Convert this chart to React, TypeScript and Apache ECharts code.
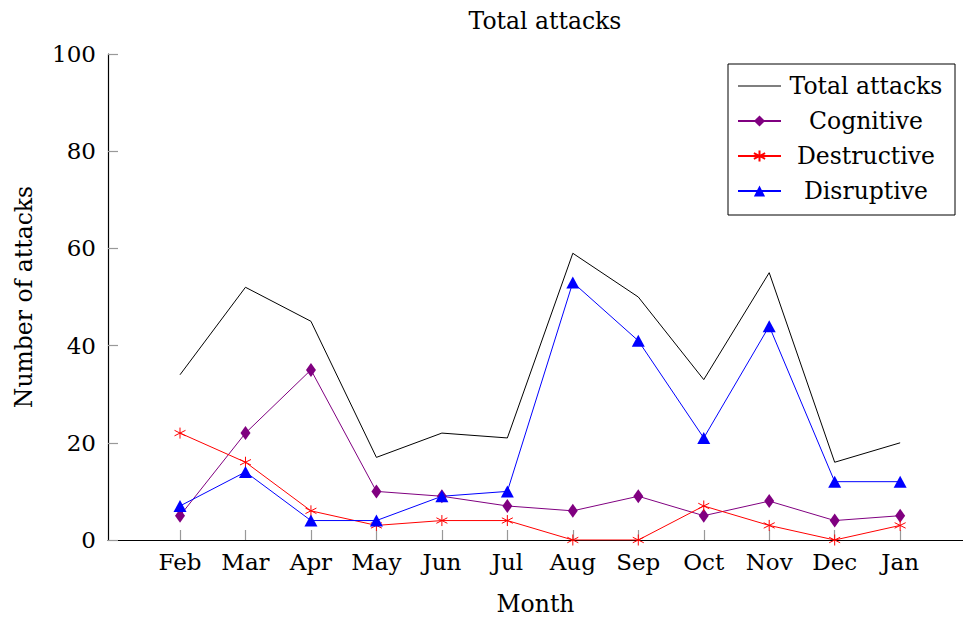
import React, { useEffect, useRef } from "react";
import * as echarts from "echarts";

const months = ["Feb", "Mar", "Apr", "May", "Jun", "Jul", "Aug", "Sep", "Oct", "Nov", "Dec", "Jan"];
const totalAttacks = [34, 52, 45, 17, 22, 21, 59, 50, 33, 55, 16, 20];
const cognitive = [5, 22, 35, 10, 9, 7, 6, 9, 5, 8, 4, 5];
const destructive = [22, 16, 6, 3, 4, 4, 0, 0, 7, 3, 0, 3];
const disruptive = [7, 14, 4, 4, 9, 10, 53, 41, 21, 44, 12, 12];
const yTicks = [0, 20, 40, 60, 80, 100];

const FONT = "DejaVu Serif";

const pair = (vals: number[]) => vals.map((v, i) => [i, v]);

const asterisk =
  "path://M5,0 L5,10 M0.67,2.5 L9.33,7.5 M0.67,7.5 L9.33,2.5";

export default function App() {
  const ref = useRef<HTMLDivElement>(null);
  useEffect(() => {
    if (!ref.current) return;
    const chart = echarts.init(ref.current, null, { renderer: "svg" });
    const monthIdx = months.map((_, i) => i);
    chart.setOption({
      animation: false,
      backgroundColor: "#ffffff",
      title: {
        text: "Total attacks",
        left: 540,
        top: 4,
        textAlign: "center",
        textStyle: { fontFamily: FONT, fontSize: 23.5, fontWeight: "normal", color: "#000" },
      },
      legend: {
        left: 728,
        top: 64,
        orient: "vertical",
        backgroundColor: "#fff",
        borderColor: "#000",
        borderWidth: 1,
        borderRadius: 0,
        padding: [10, 9, 12, 9],
        itemWidth: 43,
        itemHeight: 14,
        itemGap: 11,
        itemTextGap: 5,
        formatter: (name: string) => "{a|" + name + "}",
        textStyle: {
          fontFamily: FONT,
          fontSize: 23.5,
          color: "#000",
          rich: { a: { width: 160, align: "center", lineHeight: 24, fontFamily: FONT, fontSize: 23.5 } },
        },
        data: [
          { name: "Total attacks", icon: "path://M0,0 L43,0 L43,1 L0,1 Z" },
          "Cognitive",
          "Destructive",
          "Disruptive",
        ],
      },
      grid: { left: 108, right: 0, top: 54, bottom: 81, containLabel: false, outerBoundsMode: "none" },
      xAxis: {
        type: "value",
        min: -1.1,
        max: 11.96,
        name: "Month",
        nameLocation: "middle",
        nameGap: 52,
        nameTextStyle: { fontFamily: FONT, fontSize: 23.5, color: "#000" },
        splitLine: { show: false },
        axisLine: { show: true, onZero: false, lineStyle: { color: "#000", width: 1.2 } },
        axisTick: {
          show: true,
          inside: true,
          length: 10,
          customValues: monthIdx,
          lineStyle: { color: "#999", width: 1.2 },
        },
        axisLabel: {
          customValues: monthIdx,
          margin: 10,
          fontFamily: FONT,
          fontSize: 23,
          color: "#000",
          formatter: (v: number) => months[Math.round(v)] ?? "",
        },
      },
      yAxis: {
        type: "value",
        min: 0,
        max: 100,
        interval: 20,
        name: "Number of attacks",
        nameLocation: "middle",
        nameGap: 72,
        nameTextStyle: { fontFamily: FONT, fontSize: 23.5, color: "#000" },
        splitLine: { show: false },
        axisLine: { show: true, onZero: false, lineStyle: { color: "#000", width: 1.2 } },
        axisTick: { show: true, inside: true, length: 10, lineStyle: { color: "#999", width: 1.2 } },
        axisLabel: {
          margin: 12,
          fontFamily: FONT,
          fontSize: 23,
          color: "#000",
          customValues: yTicks,
        },
      },
      series: [
        {
          name: "Total attacks",
          type: "line",
          data: pair(totalAttacks),
          symbol: "none",
          lineStyle: { color: "#000", width: 1 },
          itemStyle: { color: "#000" },
        },
        {
          name: "Cognitive",
          type: "line",
          data: pair(cognitive),
          symbol: "diamond",
          symbolSize: [10, 14],
          lineStyle: { color: "#800080", width: 1 },
          itemStyle: { color: "#800080" },
        },
        {
          name: "Destructive",
          type: "line",
          data: pair(destructive),
          symbol: asterisk,
          symbolSize: 11,
          lineStyle: { color: "#ff0000", width: 1 },
          itemStyle: { color: "none", borderColor: "#ff0000", borderWidth: 1 },
        },
        {
          name: "Disruptive",
          type: "line",
          data: pair(disruptive),
          symbol: "triangle",
          symbolSize: [13, 12],
          lineStyle: { color: "#0000ff", width: 1 },
          itemStyle: { color: "#0000ff" },
        },
      ],
    });
    return () => chart.dispose();
  }, []);
  return (
    <div
      ref={ref}
      style={{ position: "fixed", left: 0, top: 0, width: 963, height: 621, background: "#fff" }}
    />
  );
}
